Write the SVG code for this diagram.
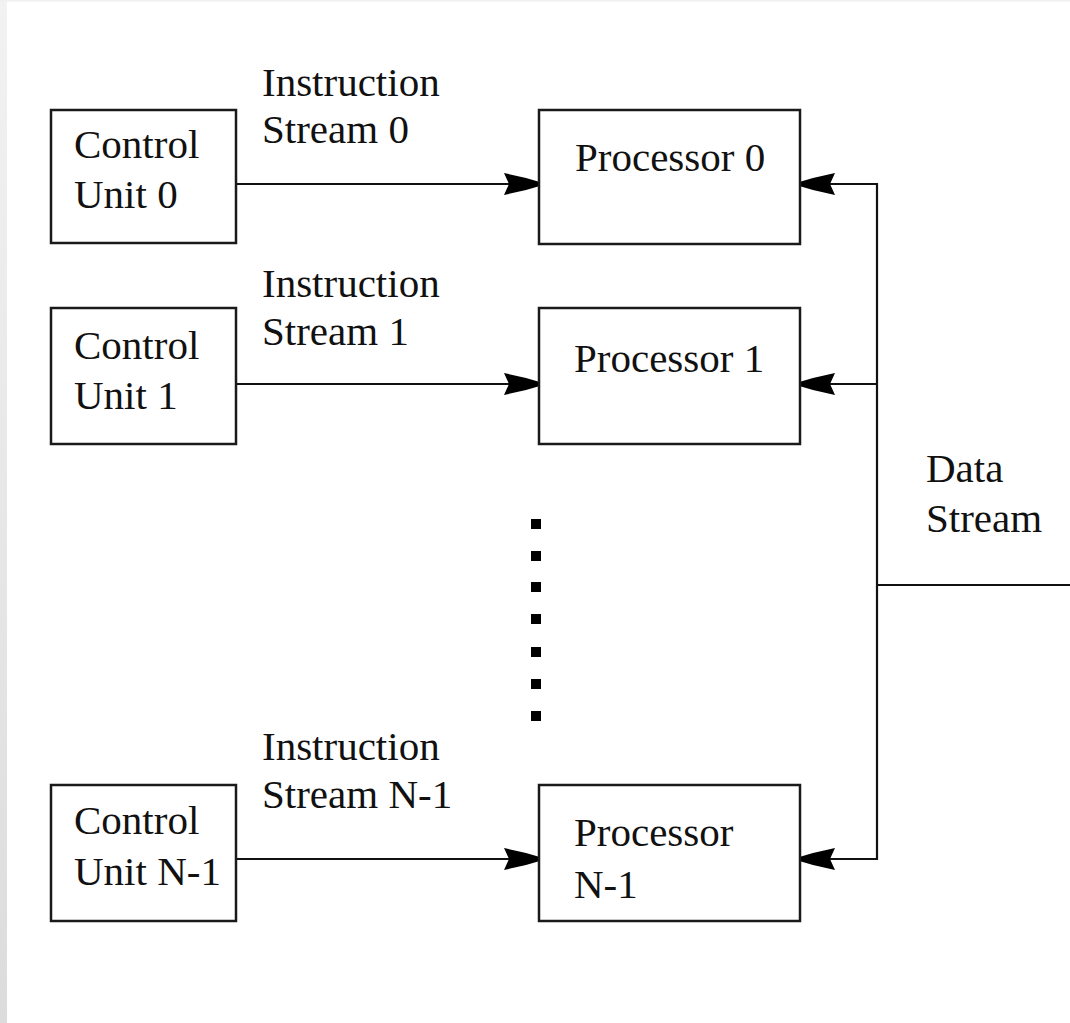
<svg xmlns="http://www.w3.org/2000/svg" width="1070" height="1023" viewBox="0 0 1070 1023">
  <defs>
    <linearGradient id="edge" x1="0" y1="0" x2="0" y2="1">
      <stop offset="0" stop-color="#f2f2f2"/>
      <stop offset="1" stop-color="#dcdcdc"/>
    </linearGradient>
    <marker id="arr" viewBox="-36 -12 37 24" markerWidth="37" markerHeight="24" refX="0" refY="0" orient="auto" markerUnits="userSpaceOnUse">
      <path d="M0,-2.5 L-12,-6 L-34,-11 L-29,0 L-34,11 L-12,6 L0,2.5 Z" fill="#000"/>
    </marker>
    <style>
      .box { fill: #fff; stroke: #1a1a1a; stroke-width: 2.5; }
      .lbl { font-family: "Liberation Serif", "Times New Roman", serif; font-size: 41px; fill: #111; }
      .ln { stroke: #111; stroke-width: 2.2; fill: none; }
      .arrow { marker-end: url(#arr); }
      .dot { fill: #000; }
    </style>
  </defs>
  <rect x="0" y="0" width="1070" height="1023" fill="#fff"/>
  <rect x="0" y="0" width="7" height="1023" fill="url(#edge)"/>
  <rect x="0" y="0" width="1070" height="1.5" fill="#f0f0f0"/>

  <g id="connectors">
    <line class="ln arrow" x1="236" y1="184" x2="538" y2="184"/>
    <line class="ln arrow" x1="236" y1="384" x2="538" y2="384"/>
    <line class="ln arrow" x1="236" y1="859" x2="538" y2="859"/>
    <line class="ln" x1="877" y1="183" x2="877" y2="860"/>
    <line class="ln arrow" x1="878" y1="184" x2="801" y2="184"/>
    <line class="ln arrow" x1="878" y1="384" x2="801" y2="384"/>
    <line class="ln arrow" x1="878" y1="859" x2="801" y2="859"/>
    <line class="ln" x1="876" y1="585" x2="1070" y2="585"/>
  </g>

  <g id="cu0">
    <rect class="box" x="51" y="110" width="185" height="133"/>
    <text class="lbl" x="74" y="158">Control</text>
    <text class="lbl" x="74" y="208">Unit 0</text>
  </g>
  <g id="cu1">
    <rect class="box" x="51" y="308" width="185" height="136"/>
    <text class="lbl" x="74" y="359">Control</text>
    <text class="lbl" x="74" y="409">Unit 1</text>
  </g>
  <g id="cuN">
    <rect class="box" x="51" y="785" width="185" height="136"/>
    <text class="lbl" x="74" y="834">Control</text>
    <text class="lbl" x="74" y="885">Unit N-1</text>
  </g>

  <g id="p0">
    <rect class="box" x="539" y="110" width="261" height="134"/>
    <text class="lbl" x="575" y="171">Processor 0</text>
  </g>
  <g id="p1">
    <rect class="box" x="539" y="308" width="261" height="136"/>
    <text class="lbl" x="574" y="372">Processor 1</text>
  </g>
  <g id="pN">
    <rect class="box" x="539" y="785" width="261" height="136"/>
    <text class="lbl" x="574" y="846">Processor</text>
    <text class="lbl" x="574" y="898">N-1</text>
  </g>

  <g id="is0">
    <text class="lbl" x="262" y="96">Instruction</text>
    <text class="lbl" x="262" y="143">Stream 0</text>
  </g>
  <g id="is1">
    <text class="lbl" x="262" y="297">Instruction</text>
    <text class="lbl" x="262" y="345">Stream 1</text>
  </g>
  <g id="isN">
    <text class="lbl" x="262" y="760">Instruction</text>
    <text class="lbl" x="262" y="808">Stream N-1</text>
  </g>

  <g id="ds">
    <text class="lbl" x="926" y="482">Data</text>
    <text class="lbl" x="926" y="532">Stream</text>
  </g>

  <g id="ellipsis">
    <rect class="dot" x="531" y="519" width="10" height="10"/>
    <rect class="dot" x="531" y="551" width="10" height="10"/>
    <rect class="dot" x="531" y="582" width="10" height="10"/>
    <rect class="dot" x="531" y="614" width="10" height="10"/>
    <rect class="dot" x="531" y="647" width="10" height="10"/>
    <rect class="dot" x="531" y="679" width="10" height="10"/>
    <rect class="dot" x="531" y="711" width="10" height="10"/>
  </g>
</svg>
